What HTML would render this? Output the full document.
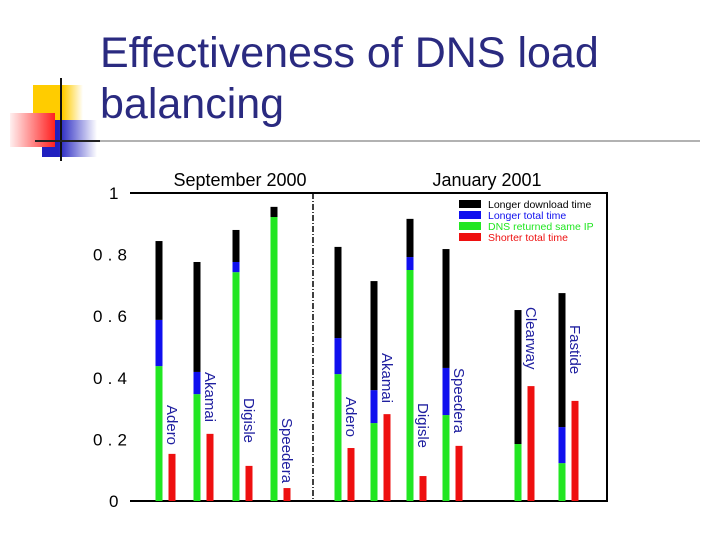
<!DOCTYPE html>
<html><head><meta charset="utf-8"><style>
body{margin:0;background:#fff;width:720px;height:540px;overflow:hidden;font-family:"Liberation Sans",sans-serif}
</style></head><body>
<svg width="720" height="540" xmlns="http://www.w3.org/2000/svg">
<defs>
<linearGradient id="gy" x1="0" x2="1"><stop offset="0.6" stop-color="#ffcc00"/><stop offset="1" stop-color="#fff"/></linearGradient>
<linearGradient id="gr" x1="1" x2="0"><stop offset="0" stop-color="#ff2020"/><stop offset="1" stop-color="#fff0f0"/></linearGradient>
<linearGradient id="gb" x1="0" x2="1"><stop offset="0.3" stop-color="#2020c0"/><stop offset="1" stop-color="#fff"/></linearGradient>
</defs>
<g>
<rect x="33" y="85" width="50" height="36" fill="url(#gy)"/>
<rect x="42" y="120" width="55" height="37" fill="url(#gb)"/>
<rect x="10" y="113" width="45" height="34" fill="url(#gr)"/>
<line x1="61" y1="78" x2="61" y2="161" stroke="#111" stroke-width="2"/>
<line x1="35" y1="141" x2="100" y2="141" stroke="#222" stroke-width="2"/>
<line x1="100" y1="141" x2="700" y2="141" stroke="#999" stroke-width="1.5"/>
</g>
<text x="100" y="67" font-size="43" fill="#2a2a80">Effectiveness of DNS load</text>
<text x="100" y="118" font-size="43" fill="#2a2a80">balancing</text>
<g id="chart"></g>
</svg>
<script>
const categories=["Adero","Akamai","Digisle","Speedera","Adero","Akamai","Digisle","Speedera","Clearway","Fastide"];
const greenTop=[0.438,0.347,0.743,0.922,0.412,0.253,0.750,0.279,0.185,0.123];
const blueTop=[0.588,0.419,0.776,0.922,0.529,0.360,0.792,0.432,0.185,0.240];
const blackTop=[0.844,0.776,0.880,0.955,0.825,0.714,0.916,0.818,0.620,0.675];
const redVal=[0.153,0.218,0.114,0.042,0.172,0.282,0.081,0.179,0.373,0.325];
const yTicks=[0,0.2,0.4,0.6,0.8,1];
const yTickLabels=["0","0.2","0.4","0.6","0.8","1"];
const NS="http://www.w3.org/2000/svg";
const g=document.getElementById('chart');
const slotX=[159,197,236,274,338,374,410,446,518,562];
const y=v=>501-v*308;
function mk(t,a){const e=document.createElementNS(NS,t);for(const k in a)e.setAttribute(k,a[k]);g.appendChild(e);return e;}
let e;
e=mk('path',{d:'M130 193 H607 V501 H130',fill:'none',stroke:'#000','stroke-width':2});


e=mk('line',{x1:313,y1:193,x2:313,y2:501,stroke:'#000','stroke-width':1.5,'stroke-dasharray':'6 2 1 2'});


yTicks.forEach((v,i)=>{const lbl=yTickLabels[i];e=mk('text',{x:lbl.length>1?93:109,y:y(v)+6,'font-size':17,fill:'#000','textLength':lbl.length>1?34:null});
if(lbl.length===1)e.removeAttribute('textLength');
e.textContent=lbl;

});
e=mk('text',{x:240,y:186,'font-size':18,'text-anchor':'middle'});e.textContent='September 2000';


e=mk('text',{x:487,y:186,'font-size':18,'text-anchor':'middle'});e.textContent='January 2001';


const labelStart=[405,372,398,418,397,353,403,368,307,325];
categories.forEach((c,i)=>{const x=slotX[i];const w=7;
const segs=[[0,greenTop[i],'#22e622','green'],[greenTop[i],blueTop[i],'#1010ee','blue'],[blueTop[i],blackTop[i],'#000','black']];
segs.forEach(s=>{if(s[1]>s[0]){e=mk('rect',{x:x-w/2,y:y(s[1]),width:w,height:y(s[0])-y(s[1]),fill:s[2]});

}});
e=mk('rect',{x:x+13-w/2,y:y(redVal[i]),width:w,height:y(0)-y(redVal[i]),fill:'#ee1010'});


e=mk('text',{x:0,y:0,'font-size':15,fill:'#2020a0',transform:'translate('+(x+8)+','+labelStart[i]+') rotate(90)'});
e.textContent=c;


});
const legend=[['Longer download time','#000','#000'],['Longer total time','#1010ee','#1010ee'],['DNS returned same IP','#22e622','#22e622'],['Shorter total time','#ee1010','#ee1010']];
legend.forEach((l,i)=>{const yy=200+i*11;
e=mk('rect',{x:459,y:yy,width:22,height:8,fill:l[1]});


e=mk('text',{x:488,y:yy+8,'font-size':10.5,fill:l[2]});e.textContent=l[0];

});
</script>
</body></html>
